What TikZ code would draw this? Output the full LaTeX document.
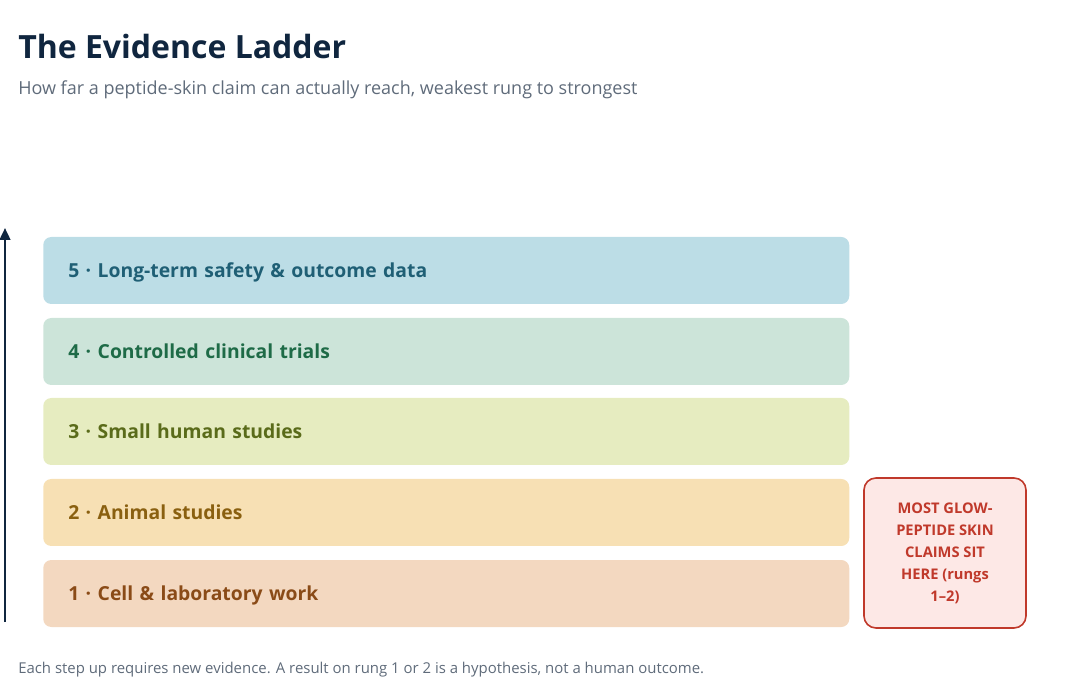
\documentclass[tikz,border=0pt]{standalone}
\usepackage{fontspec}
\setmainfont{Open Sans}
\usepackage{tikz}
\usetikzlibrary{arrows.meta}

\definecolor{ink}{HTML}{10263F}
\definecolor{subgrey}{HTML}{5F6B7A}
\definecolor{fillA}{HTML}{F3D8C0}\definecolor{textA}{HTML}{8A4B17}
\definecolor{fillB}{HTML}{F7E0B4}\definecolor{textB}{HTML}{8A6010}
\definecolor{fillC}{HTML}{E6ECC0}\definecolor{textC}{HTML}{5A6B1A}
\definecolor{fillD}{HTML}{CCE4D9}\definecolor{textD}{HTML}{1E6B47}
\definecolor{fillE}{HTML}{BCDDE6}\definecolor{textE}{HTML}{1F5F75}
\definecolor{warnred}{HTML}{C0392B}
\definecolor{warnfill}{HTML}{FDE8E6}

\tikzset{
    rung/.style={anchor=west, rounded corners=6pt, minimum width=604.5pt,
        minimum height=50.25pt, text width=567pt, inner xsep=18.75pt,
        align=left, text depth=1pt, font=\fontsize{14.5}{17}\selectfont\bfseries},
    warnbox/.style={draw=warnred, line width=1.2pt, fill=warnfill, rounded corners=9pt,
        minimum width=121.5pt, minimum height=112.5pt, align=center,
        text=warnred, font=\fontsize{11}{16.5}\selectfont\bfseries},
}

\begin{document}
\begin{tikzpicture}[x=0.75pt, y=-0.75pt]
    \useasboundingbox (0,0) rectangle (1068,691);
    % Heading
    \node[anchor=base west, inner sep=0pt, text=ink, font=\fontsize{24}{28}\selectfont\bfseries]
        (title) at (18,59) {The Evidence Ladder};
    \node[anchor=base west, inner sep=0pt, text=subgrey, font=\fontsize{13.5}{16}\selectfont]
        (subtitle) at (18,95) {How far a peptide-skin claim can actually reach, weakest rung to strongest};
    % Rungs
    \node[rung, fill=fillE, text=textE] (r5) at (43,270.5) {5 · Long-term safety \& outcome data};
    \node[rung, fill=fillD, text=textD] (r4) at (43,351.5) {4 · Controlled clinical trials};
    \node[rung, fill=fillC, text=textC] (r3) at (43,431.5) {3 · Small human studies};
    \node[rung, fill=fillB, text=textB] (r2) at (43,512.5) {2 · Animal studies};
    \node[rung, fill=fillA, text=textA] (r1) at (43,593.5) {1 · Cell \& laboratory work};
    % Callout
    \node[warnbox] (note) at (945,553) {MOST GLOW-\\PEPTIDE SKIN\\CLAIMS SIT\\HERE (rungs\\1–2)};
    % Upward arrow
    \coordinate (low) at (5,622);
    \coordinate (high) at (5,228);
    \path
        (low)
            edge [-{Triangle[length=9pt,width=8pt]}, line width=1.8pt, draw=ink] (high)
        ;
    % Footnote
    \node[anchor=base west, inner sep=0pt, text=subgrey, font=\fontsize{11.2}{14}\selectfont]
        (foot) at (18,673) {Each step up requires new evidence. A result on rung 1 or 2 is a hypothesis, not a human outcome.};
\end{tikzpicture}
\end{document}
